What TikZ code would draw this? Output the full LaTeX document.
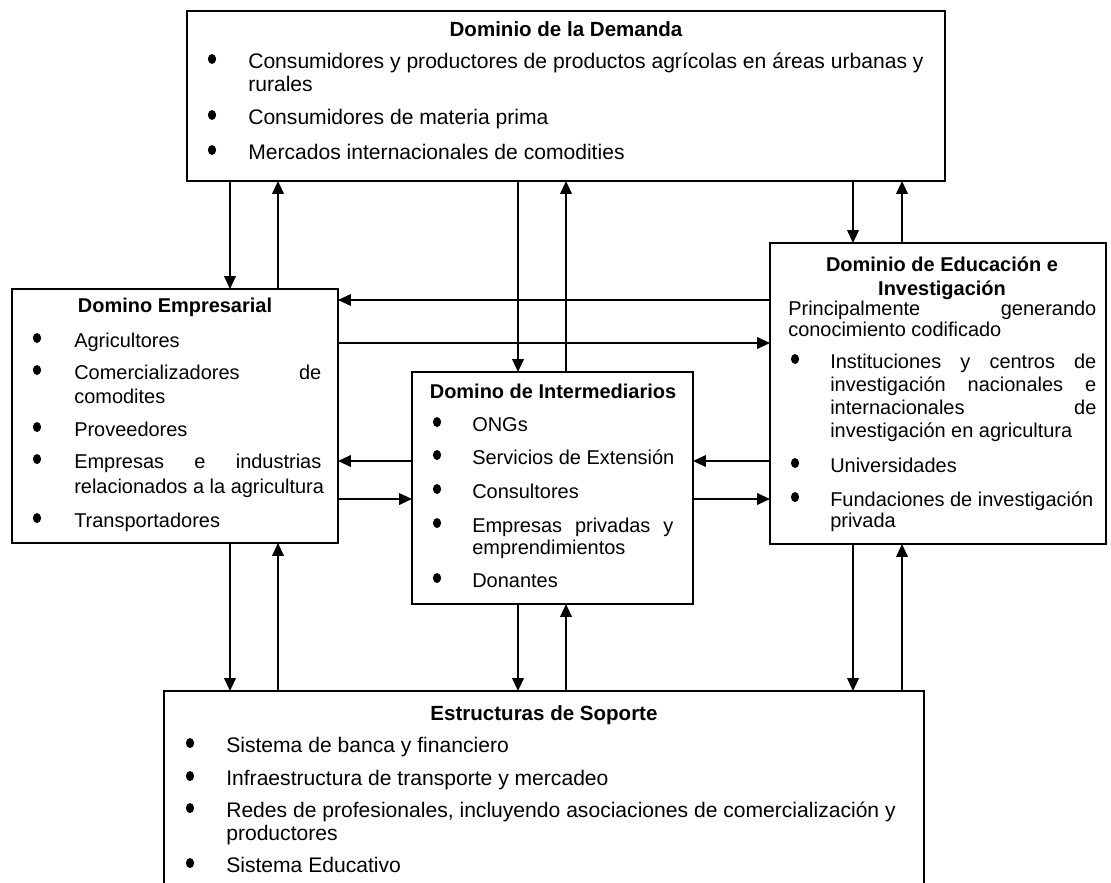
\documentclass[tikz,border=0pt]{standalone}
\usepackage{fontspec}
\setmainfont{Liberation Sans}
\usetikzlibrary{arrows.meta}
\begin{document}
\begin{tikzpicture}[x=0.025cm,y=-0.025cm,
  box/.style={draw,line width=1.3pt,inner sep=0pt,outer sep=0pt},
  arr/.style={line width=1.1pt,-{Triangle[length=3.2mm,width=2.9mm]}},
  ln/.style={anchor=base west,inner sep=0pt,font=\fontsize{14.2}{16}\selectfont},
  lnL/.style={anchor=base west,inner sep=0pt,font=\fontsize{15}{17}\selectfont},
  ttl/.style={anchor=base,inner sep=0pt,font=\fontsize{14.2}{16}\selectfont\bfseries},
  ttlL/.style={anchor=base,inner sep=0pt,font=\fontsize{14.6}{17}\selectfont\bfseries},
  bul/.style={fill=black}]
\useasboundingbox (0,0) rectangle (1111,882);
\clip (0,0) rectangle (1111,882);
\fill[white] (0,0) rectangle (1111,882);

% boxes
\node[box,minimum width=18.95cm,minimum height=4.25cm] (dem) at (566,96) {};
\node[box,minimum width=8.15cm,minimum height=6.35cm] (emp) at (175,416) {};
\node[box,minimum width=7.025cm,minimum height=5.8cm] (int) at (552.5,488) {};
\node[box,minimum width=8.4cm,minimum height=7.525cm] (edu) at (938,393.5) {};
\node[box,minimum width=19cm,minimum height=6.95cm] (sop) at (544,830) {};

% column / row helpers
\coordinate (cA) at (230,0);
\coordinate (cB) at (278,0);
\coordinate (cC) at (518,0);
\coordinate (cD) at (566,0);
\coordinate (cE) at (853,0);
\coordinate (cF) at (902,0);
\coordinate (r1) at (0,300);
\coordinate (r2) at (0,343);
\coordinate (r3) at (0,461);
\coordinate (r4) at (0,499);

% connectors
\draw[arr] (dem.south -| cA) -- (emp.north -| cA);
\draw[arr] (emp.north -| cB) -- (dem.south -| cB);
\draw[arr] (dem.south -| cC) -- (int.north -| cC);
\draw[arr] (int.north -| cD) -- (dem.south -| cD);
\draw[arr] (dem.south -| cE) -- (edu.north -| cE);
\draw[arr] (edu.north -| cF) -- (dem.south -| cF);
\draw[arr] (edu.west |- r1) -- (emp.east |- r1);
\draw[arr] (emp.east |- r2) -- (edu.west |- r2);
\draw[arr] (int.west |- r3) -- (emp.east |- r3);
\draw[arr] (emp.east |- r4) -- (int.west |- r4);
\draw[arr] (edu.west |- r3) -- (int.east |- r3);
\draw[arr] (int.east |- r4) -- (edu.west |- r4);
\draw[arr] (emp.south -| cA) -- (sop.north -| cA);
\draw[arr] (sop.north -| cB) -- (emp.south -| cB);
\draw[arr] (int.south -| cC) -- (sop.north -| cC);
\draw[arr] (sop.north -| cD) -- (int.south -| cD);
\draw[arr] (edu.south -| cE) -- (sop.north -| cE);
\draw[arr] (sop.north -| cF) -- (edu.south -| cF);

% Dominio de la Demanda
\node[ttlL] (demT) at (566,36) {Dominio de la Demanda};
\fill[bul] (212,59) ellipse [x radius=4.1,y radius=5];
\node[lnL] (d1) at (248,68) {Consumidores y productores de productos agrícolas en áreas urbanas y};
\node[lnL] (d1b) at (248,91) {rurales};
\fill[bul] (212,115) ellipse [x radius=4.1,y radius=5];
\node[lnL] (d2) at (248,124) {Consumidores de materia prima};
\fill[bul] (212,150) ellipse [x radius=4.1,y radius=5];
\node[lnL] (d3) at (248,159) {Mercados internacionales de comodities};

% Domino Empresarial
\node[ttl] (empT) at (175,312) {Domino Empresarial};
\fill[bul] (37,338) ellipse [x radius=4.1,y radius=5];
\node[ln] (e1) at (74,347) {Agricultores};
\fill[bul] (37,370) ellipse [x radius=4.1,y radius=5];
\node[ln] (e2) at (74,379) {\makebox[6.175cm][s]{Comercializadores de}};
\node[ln] (e2b) at (74,403) {comodites};
\fill[bul] (37,427) ellipse [x radius=4.1,y radius=5];
\node[ln] (e3) at (74,436) {Proveedores};
\fill[bul] (37,459) ellipse [x radius=4.1,y radius=5];
\node[ln] (e4) at (74,468) {\makebox[6.175cm][s]{Empresas e industrias}};
\node[ln] (e4b) at (74,493) {relacionados a la agricultura};
\fill[bul] (37,518) ellipse [x radius=4.1,y radius=5];
\node[ln] (e5) at (74,527) {Transportadores};

% Domino de Intermediarios
\node[ttl] (intT) at (553,398) {Domino de Intermediarios};
\fill[bul] (437,422) ellipse [x radius=4.1,y radius=5];
\node[ln] (i1) at (472,431) {ONGs};
\fill[bul] (437,455) ellipse [x radius=4.1,y radius=5];
\node[ln] (i2) at (472,464) {Servicios de Extensión};
\fill[bul] (437,489) ellipse [x radius=4.1,y radius=5];
\node[ln] (i3) at (472,498) {Consultores};
\fill[bul] (437,523) ellipse [x radius=4.1,y radius=5];
\node[ln] (i4) at (472,532) {\makebox[5.025cm][s]{Empresas privadas y}};
\node[ln] (i4b) at (472,554) {emprendimientos};
\fill[bul] (437,578) ellipse [x radius=4.1,y radius=5];
\node[ln] (i5) at (472,587) {Donantes};

% Dominio de Educacion e Investigacion
\node[ttl] (eduT) at (942,271) {Dominio de Educación e};
\node[ttl] (eduT2) at (942,295) {Investigación};
\node[ln] (p1) at (788,315) {\makebox[7.7cm][s]{Principalmente generando}};
\node[ln] (p2) at (788,336) {conocimiento codificado};
\fill[bul] (795,359) ellipse [x radius=4.1,y radius=5];
\node[ln] (u1) at (830,368) {\makebox[6.65cm][s]{Instituciones y centros de}};
\node[ln] (u1b) at (830,391) {\makebox[6.65cm][s]{investigación nacionales e}};
\node[ln] (u1c) at (830,414) {\makebox[6.65cm][s]{internacionales de}};
\node[ln] (u1d) at (830,437) {investigación en agricultura};
\fill[bul] (795,463) ellipse [x radius=4.1,y radius=5];
\node[ln] (u2) at (830,472) {Universidades};
\fill[bul] (795,497) ellipse [x radius=4.1,y radius=5];
\node[ln] (u3) at (830,506) {Fundaciones de investigación};
\node[ln] (u3b) at (830,527) {privada};

% Estructuras de Soporte
\node[ttlL] (sopT) at (544,720) {Estructuras de Soporte};
\fill[bul] (190,743) ellipse [x radius=4.1,y radius=5];
\node[lnL] (s1) at (226,752) {Sistema de banca y financiero};
\fill[bul] (190,776) ellipse [x radius=4.1,y radius=5];
\node[lnL] (s2) at (226,785) {Infraestructura de transporte y mercadeo};
\fill[bul] (190,808) ellipse [x radius=4.1,y radius=5];
\node[lnL] (s3) at (226,817) {Redes de profesionales, incluyendo asociaciones de comercialización y};
\node[lnL] (s3b) at (226,840) {productores};
\fill[bul] (190,863) ellipse [x radius=4.1,y radius=5];
\node[lnL] (s4) at (226,872) {Sistema Educativo};
\end{tikzpicture}
\end{document}
